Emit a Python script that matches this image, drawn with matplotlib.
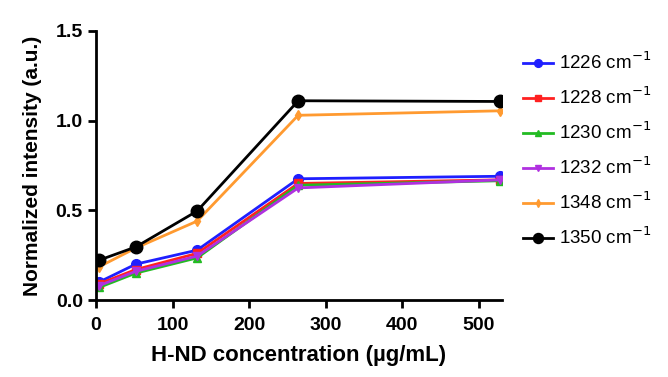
import matplotlib
matplotlib.use("Agg")
import matplotlib.pyplot as plt

x = [4, 52, 132, 264, 528]
labels = ["1226", "1228", "1230", "1232", "1348", "1350"]
y1226 = [0.10, 0.20, 0.278, 0.676, 0.69]
y1228 = [0.09, 0.17, 0.26, 0.65, 0.67]
y1230 = [0.07, 0.15, 0.235, 0.64, 0.665]
y1232 = [0.08, 0.16, 0.245, 0.625, 0.67]
y1348 = [0.185, 0.29, 0.44, 1.03, 1.055]
y1350 = [0.222, 0.296, 0.496, 1.111, 1.107]
series = [y1226, y1228, y1230, y1232, y1348, y1350]
colors = ["#1f1fff", "#ff2020", "#22bb22", "#b030e0", "#ff9a30", "#000000"]
markers = ["o", "s", "^", "v", "d", "o"]
msizes = [7, 6, 6, 6, 5, 9]

plt.rcParams['font.family'] = ['Liberation Sans', 'DejaVu Sans']
fig = plt.figure(figsize=(6.68, 3.77), dpi=100)
ax = fig.add_axes([0.1437, 0.2042, 0.6078, 0.7136])

for ys, c, m, ms, lab in zip(series, colors, markers, msizes, labels):
    ax.plot(x, ys, color=c, marker=m, markersize=ms, linewidth=2, label=lab + " cm$^{-1}$")

ax.set_xlim(0, 530)
ax.set_ylim(0, 1.5)
ax.set_xticks([0, 100, 200, 300, 400, 500])
ax.set_yticks([0.0, 0.5, 1.0, 1.5])
ax.set_yticklabels(["0.0", "0.5", "1.0", "1.5"])
for s in ["top", "right"]:
    ax.spines[s].set_visible(False)
for s in ["left", "bottom"]:
    ax.spines[s].set_linewidth(2)
ax.tick_params(axis="both", direction="out", length=6, width=2, labelsize=14)
ax.tick_params(axis="x", pad=6)
for t in ax.get_xticklabels() + ax.get_yticklabels():
    t.set_fontweight("bold")
ax.set_xlabel("H-ND concentration (µg/mL)", fontsize=16, fontweight="bold", labelpad=8)
ax.set_ylabel("Normalized intensity (a.u.)", fontsize=15, fontweight="bold", labelpad=10)

leg = ax.legend(loc="upper left", bbox_to_anchor=(1.01, 0.985), frameon=False,
                fontsize=13.5, handlelength=1.6, handletextpad=0.3,
                labelspacing=0.72, markerscale=0.8)
fig.savefig("out.png", dpi=100)
